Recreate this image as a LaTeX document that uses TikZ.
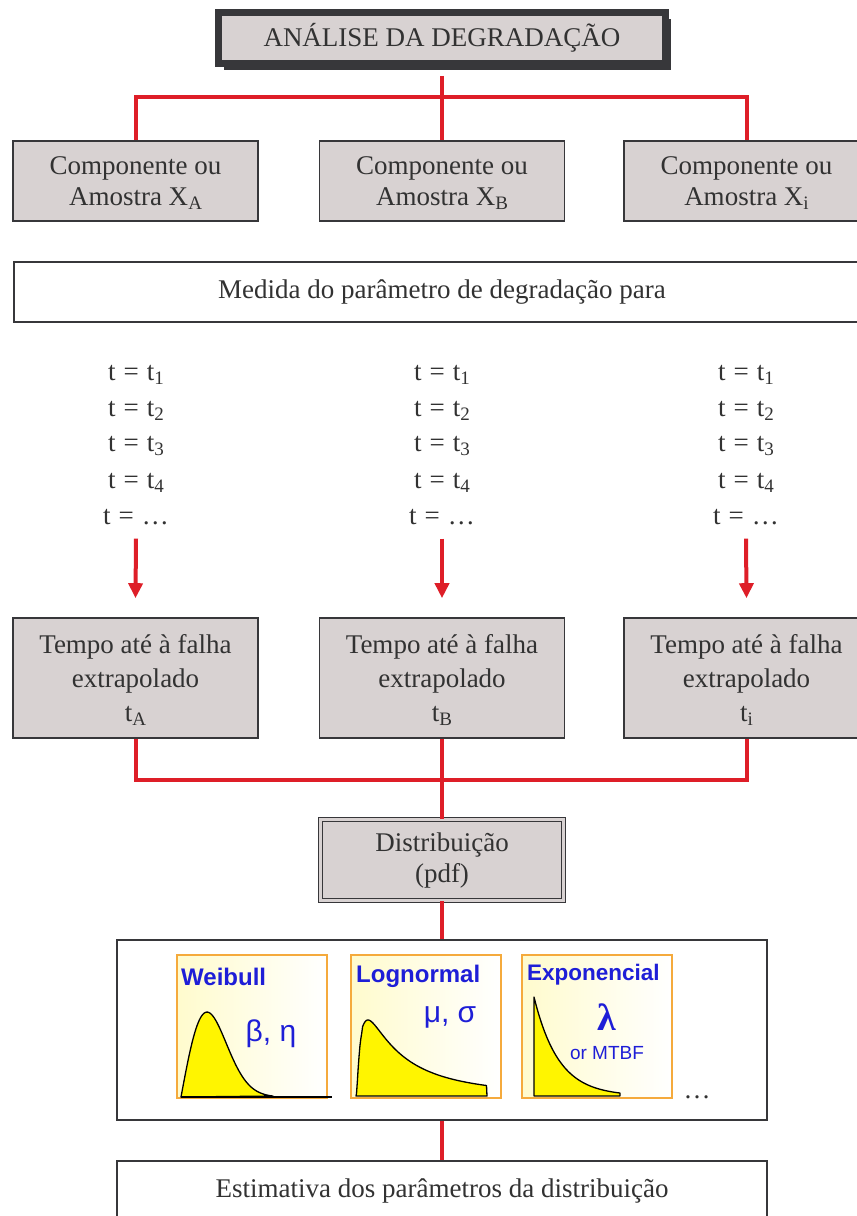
\documentclass[tikz,border=0pt]{standalone}
\usepackage{fontspec}
\setmainfont{Liberation Serif}
\newfontfamily\panelsans{Liberation Sans}
\usetikzlibrary{shadows,arrows.meta}

\definecolor{boxgray}{RGB}{216,210,210}
\definecolor{framedark}{RGB}{55,55,58}
\definecolor{textgray}{RGB}{50,50,50}
\definecolor{linkred}{RGB}{222,30,40}
\definecolor{panelorange}{RGB}{245,170,60}
\definecolor{panelblue}{RGB}{30,30,215}
\definecolor{curveyellow}{RGB}{255,245,0}
\definecolor{paneltint}{RGB}{255,251,205}

% lowered index used for X_A, t_1, ... (no added depth)
\newcommand\lowidx[1]{\raisebox{-4pt}[\height][0pt]{\fontsize{19}{19}\selectfont #1}}
% "t = ..." with slightly wider spacing round the sign
\newcommand\teq{t\kern8pt=\kern8pt}

\begin{document}
\begin{tikzpicture}[x=1pt,y=-1pt,
  graybox/.style={rectangle, draw=framedark, line width=1.6pt, fill=boxgray,
    text=textgray, align=center, font=\fontsize{27}{31}\selectfont, inner sep=0pt},
  whitebox/.style={graybox, fill=white},
  redlink/.style={draw=linkred, line width=4pt},
  redarrow/.style={draw=linkred, line width=4pt, -{Triangle[width=14pt,length=15pt]}},
  tval/.style={anchor=base, inner sep=0pt, text=textgray, font=\fontsize{27}{31}\selectfont},
  pdfpanel/.style={rectangle, draw=panelorange, line width=1.3pt, left color=paneltint,
    right color=white, minimum width=150pt, minimum height=143pt, inner sep=0pt},
  pdfcurve/.style={draw=black, line width=1.3pt, fill=curveyellow, line join=round},
  pdftitle/.style={anchor=west, inner sep=0pt, text=panelblue,
    font=\panelsans\bfseries\fontsize{24}{24}\selectfont},
  pdfparam/.style={inner sep=0pt, text=panelblue, font=\panelsans\fontsize{30}{30}\selectfont}
]
\useasboundingbox (0,0) rectangle (857,1216);

% title with heavy frame and shadow
\node[graybox, line width=6.5pt, minimum width=447pt, minimum height=51pt,
  font=\fontsize{27}{27}\selectfont,
  drop shadow={shadow xshift=5pt, shadow yshift=-6pt, fill=framedark, opacity=1}]
  (title) at (442,38) {ANÁLISE DA DEGRADAÇÃO};

% samples
\node[graybox, minimum width=245pt, minimum height=80pt] (compA) at (135.5,181) {Componente ou\\Amostra X\lowidx{A}};
\node[graybox, minimum width=245pt, minimum height=80pt] (compB) at (442,181) {Componente ou\\Amostra X\lowidx{B}};
\node[graybox, minimum width=245pt, minimum height=80pt] (compI) at (746.5,181) {Componente ou\\Amostra X\lowidx{i}};

\node[whitebox, minimum width=856pt, minimum height=60pt] (medida) at (442,292) {Medida do parâmetro de degradação para};

% measurement instants
\foreach \c/\x in {A/136,B/442,I/746}{
  \node[tval] (t\c1) at (\x,380) {\teq t\lowidx{1}};
  \node[tval] (t\c2) at (\x,416) {\teq t\lowidx{2}};
  \node[tval] (t\c3) at (\x,451) {\teq t\lowidx{3}};
  \node[tval] (t\c4) at (\x,488) {\teq t\lowidx{4}};
  \node[tval] (t\c5) at (\x,524) {\teq …};
}

% extrapolated failure times
\node[graybox, minimum width=245pt, minimum height=120pt, font=\fontsize{27}{34}\selectfont] (tempoA) at (135.5,678) {Tempo até à falha\\extrapolado\\t\lowidx{A}};
\node[graybox, minimum width=245pt, minimum height=120pt, font=\fontsize{27}{34}\selectfont] (tempoB) at (442,678) {Tempo até à falha\\extrapolado\\t\lowidx{B}};
\node[graybox, minimum width=245pt, minimum height=120pt, font=\fontsize{27}{34}\selectfont] (tempoI) at (746.5,678) {Tempo até à falha\\extrapolado\\t\lowidx{i}};

% distribution
\node[graybox, minimum width=243pt, minimum height=81pt, line width=1.3pt,
  double=boxgray, double distance=2.5pt] (distrib) at (442,860) {Distribuição\\(pdf)};

\node[whitebox, minimum width=650pt, minimum height=180pt] (pdfs) at (442,1030) {};
\node[whitebox, minimum width=650pt, minimum height=60pt] (estim) at (442,1191)
  {\raisebox{3pt}{Estimativa dos parâmetros da distribuição}};

% connectors
\coordinate (split) at (442,97);
\coordinate (merge) at (442,780);
\draw[redlink] ([yshift=-9pt]title.south) -- (split);
\draw[redlink] (compA.north) |- (split) -| (compI.north);
\draw[redlink] (split) -- (compB.north);
\foreach \c in {A,B,I}
  \draw[redarrow] ([yshift=-14pt]t\c5.south) -- ([yshift=19pt]tempo\c.north);
\draw[redlink] (tempoA.south) |- (merge) -| (tempoI.south);
\draw[redlink] (tempoB.south) -- (distrib.north);
\draw[redlink] (distrib.south) -- (pdfs.north);
\draw[redlink] (pdfs.south) -- (estim.north);

% distribution panels
\node[pdfpanel] (pW) at (252,1026.5) {};
\node[pdfpanel] (pL) at (426,1026.5) {};
\node[pdfpanel] (pE) at (597,1026.5) {};

% Weibull density
\draw[pdfcurve] (181,1097) -- plot[domain=0:2.5, samples=80, variable=\u]
  ({181+36.8*\u},{1097-198*\u*exp(-\u*\u)}) -- cycle;
\draw[black, line width=1.3pt] (181,1097) -- (332,1097);

% lognormal density
\draw[pdfcurve] (356,1096) -- plot[domain=0.01:2.58, samples=150, variable=\u]
  ({356+50.6*\u},{1096-111.3/(\u*3.008)*exp(-1*ln(\u)*ln(\u)/2.88)}) -- (487,1096) -- cycle;

% exponential density
\draw[pdfcurve] (534,1096) -- plot[domain=0:86, samples=60, variable=\u]
  ({534+\u},{1096-99*exp(-0.0407*\u)}) -- (620,1096) -- cycle;

\node[pdftitle] (nW) at (181,977) {Weibull};
\node[pdftitle] (nL) at (356,976) {Lognormal};
\node[pdftitle, font=\panelsans\bfseries\fontsize{22.5}{22.5}\selectfont] (nE) at (527,975) {Exponencial};
\node[pdfparam] (prW) at (271,1034) {β, η};
\node[pdfparam] (prL) at (450,1017) {μ, σ};
\node[pdfparam, font=\bfseries\fontsize{38}{38}\selectfont] (prE) at (607,1017) {λ};
\node[pdfparam, font=\panelsans\fontsize{19}{19}\selectfont] (mtbf) at (607,1053) {or MTBF};
\node[tval] (more) at (697,1098) {…};
\end{tikzpicture}
\end{document}
